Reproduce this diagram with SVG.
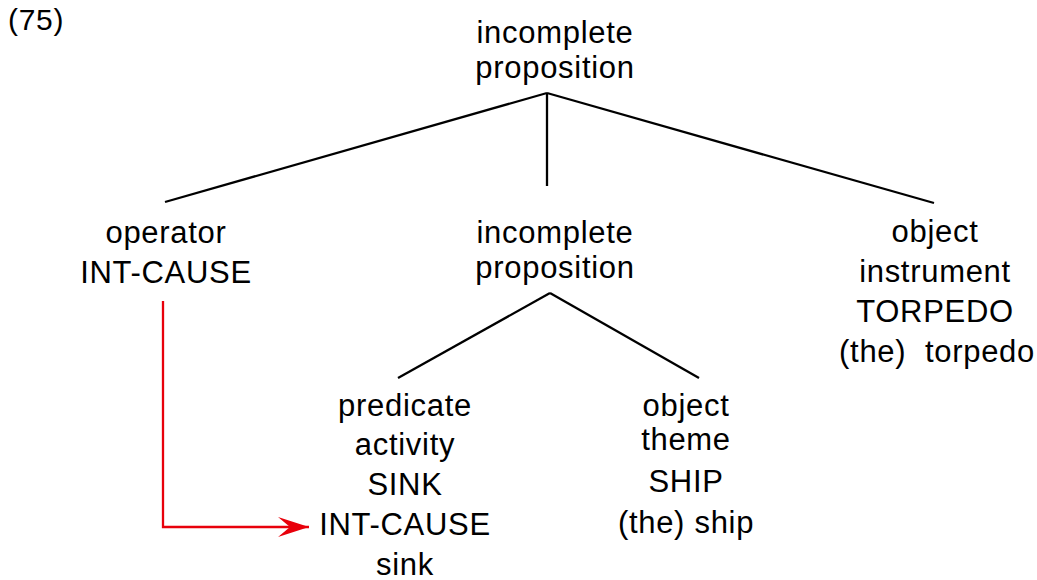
<svg xmlns="http://www.w3.org/2000/svg" width="1037" height="580" viewBox="0 0 1037 580">
<defs>
<style>
text{font-family:"Liberation Sans",Arial,sans-serif;font-size:31px;fill:#000;text-anchor:middle;letter-spacing:0.7px;white-space:pre}
.tree{stroke:#000;stroke-width:2.3;fill:none}
.red{stroke:#e8000b;stroke-width:2.3;fill:none}
</style>
<marker id="arr" markerWidth="34" markerHeight="22" refX="31" refY="11" orient="auto" markerUnits="userSpaceOnUse">
<path d="M0,1 L31,11 L0,21 L12,11 Z" fill="#e8000b"/>
</marker>
</defs>
<rect width="1037" height="580" fill="#fff"/>
<text x="8" y="30" style="text-anchor:start;font-size:30px">(75)</text>
<g id="connectors">
<line class="tree" x1="547" y1="93" x2="165" y2="202"/>
<line class="tree" x1="547" y1="93" x2="547" y2="186"/>
<line class="tree" x1="547" y1="93" x2="934" y2="203"/>
<line class="tree" x1="550" y1="293" x2="398" y2="378"/>
<line class="tree" x1="550" y1="293" x2="699" y2="378"/>
<path class="red" d="M163,301 V527 H309" marker-end="url(#arr)"/>
</g>
<g id="n-root"><text x="555" y="43">incomplete</text><text x="555" y="78">proposition</text></g>
<g id="n-operator"><text x="166" y="243">operator</text><text x="166" y="283">INT-CAUSE</text></g>
<g id="n-incomplete2"><text x="555" y="243">incomplete</text><text x="555" y="278">proposition</text></g>
<g id="n-object-instrument"><text x="935" y="242">object</text><text x="935" y="282">instrument</text><text x="935" y="322">TORPEDO</text><text x="937" y="362" xml:space="preserve">(the)  torpedo</text></g>
<g id="n-predicate"><text x="405" y="416">predicate</text><text x="405" y="455">activity</text><text x="405" y="495">SINK</text><text x="405" y="535">INT-CAUSE</text><text x="405" y="575">sink</text></g>
<g id="n-object-theme"><text x="686" y="416">object</text><text x="686" y="450">theme</text><text x="686" y="492">SHIP</text><text x="686" y="533">(the) ship</text></g>
</svg>
